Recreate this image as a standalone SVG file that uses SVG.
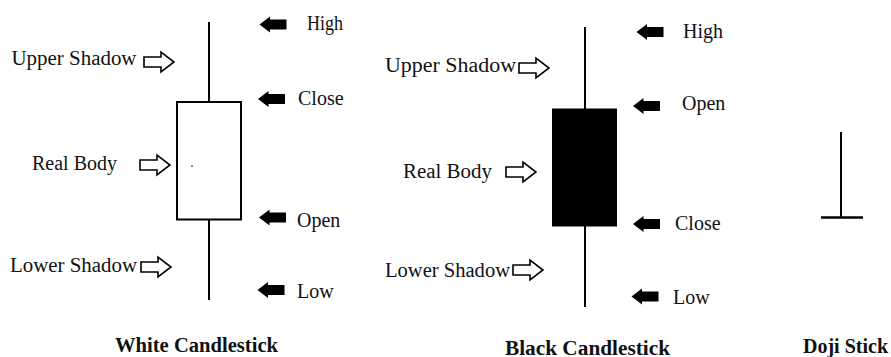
<svg xmlns="http://www.w3.org/2000/svg" xmlns:xlink="http://www.w3.org/1999/xlink" width="891" height="357" viewBox="0 0 891 357">
  <style>
    .lbl { font-family: "Liberation Serif", "Times New Roman", serif; font-size: 20px; fill: #111; }
    .title { font-family: "Liberation Serif", "Times New Roman", serif; font-size: 20px; font-weight: bold; fill: #111; }
    .wick { stroke: #000; stroke-width: 2; fill: none; }
    .open-arrow { fill: #fff; stroke: #000; stroke-width: 1.6; stroke-linejoin: miter; }
    .solid-arrow { fill: #000; stroke: none; }
  </style>
  <defs>
    <!-- hollow block arrow pointing right, centred on 0,0 -->
    <path id="hollow" class="open-arrow" d="M-15,-5 L2,-5 L2,-10 L15,0 L2,10 L2,5 L-15,5 Z"/>
    <!-- solid block arrow pointing left, centred on 0,0 -->
    <path id="solid" class="solid-arrow" d="M-13.5,0 L-3,-8 L-3,-5 L13.5,-5 L13.5,5 L-3,5 L-3,8 Z"/>
  </defs>

  <rect width="891" height="357" fill="#fff"/>

  <!-- white candlestick -->
  <g id="white-candle">
    <line class="wick" x1="209" y1="22" x2="209" y2="300"/>
    <rect x="177" y="102" width="64" height="117.5" fill="#fff" stroke="#000" stroke-width="2"/>
    <circle cx="192" cy="166" r="0.9" fill="#555"/>
  </g>

  <!-- black candlestick -->
  <g id="black-candle">
    <line class="wick" x1="585" y1="27" x2="585" y2="307"/>
    <rect x="552" y="108.5" width="65" height="118" fill="#000"/>
  </g>

  <!-- doji -->
  <g id="doji">
    <line x1="841" y1="132" x2="841" y2="217" stroke="#000" stroke-width="2"/>
    <line x1="821" y1="217.5" x2="863" y2="217.5" stroke="#000" stroke-width="2.4"/>
  </g>

  <!-- pointer arrows -->
  <g id="pointers">
    <use xlink:href="#hollow" x="159" y="62"/>
    <use xlink:href="#hollow" x="155" y="165"/>
    <use xlink:href="#hollow" x="156" y="267"/>
    <use xlink:href="#solid" x="273" y="24.5"/>
    <use xlink:href="#solid" x="271.5" y="99"/>
    <use xlink:href="#solid" x="272.5" y="217.5"/>
    <use xlink:href="#solid" x="271" y="290"/>

    <use xlink:href="#hollow" x="534" y="68"/>
    <use xlink:href="#hollow" x="521" y="172"/>
    <use xlink:href="#hollow" x="528" y="270"/>
    <use xlink:href="#solid" x="650" y="32"/>
    <use xlink:href="#solid" x="646.5" y="106"/>
    <use xlink:href="#solid" x="646.5" y="224"/>
    <use xlink:href="#solid" x="645" y="296.5"/>
  </g>

  <!-- labels, white candlestick -->
  <g id="white-labels">
    <text class="lbl" x="11.5" y="65" textLength="125" lengthAdjust="spacingAndGlyphs">Upper Shadow</text>
    <text class="lbl" x="32" y="170">Real Body</text>
    <text class="lbl" x="10" y="271.5" textLength="127" lengthAdjust="spacingAndGlyphs">Lower Shadow</text>
    <text class="lbl" x="307" y="30" textLength="36" lengthAdjust="spacingAndGlyphs">High</text>
    <text class="lbl" x="298" y="105">Close</text>
    <text class="lbl" x="297" y="226.5">Open</text>
    <text class="lbl" x="297" y="298">Low</text>
    <text class="title" x="115" y="351.5" textLength="163" lengthAdjust="spacingAndGlyphs">White Candlestick</text>
  </g>

  <!-- labels, black candlestick -->
  <g id="black-labels">
    <text class="lbl" x="385" y="71.5" textLength="131" lengthAdjust="spacingAndGlyphs">Upper Shadow</text>
    <text class="lbl" x="403" y="177.5" textLength="89" lengthAdjust="spacingAndGlyphs">Real Body</text>
    <text class="lbl" x="385" y="276.5" textLength="125" lengthAdjust="spacingAndGlyphs">Lower Shadow</text>
    <text class="lbl" x="683" y="38" textLength="40" lengthAdjust="spacingAndGlyphs">High</text>
    <text class="lbl" x="682" y="110">Open</text>
    <text class="lbl" x="675" y="230">Close</text>
    <text class="lbl" x="673" y="303.5">Low</text>
    <text class="title" x="505" y="354.5" textLength="165" lengthAdjust="spacingAndGlyphs">Black Candlestick</text>
  </g>

  <!-- label, doji -->
  <g id="doji-label">
    <text class="title" x="803" y="353">Doji Stick</text>
  </g>
</svg>
